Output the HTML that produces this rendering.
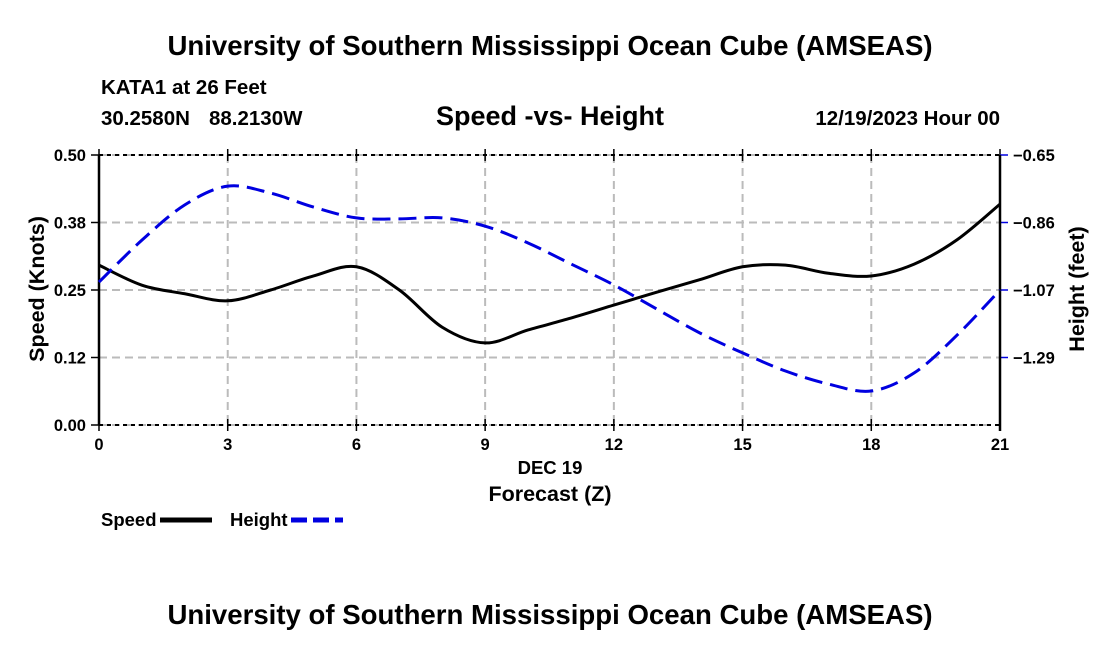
<!DOCTYPE html>
<html><head><meta charset="utf-8"><style>
body{margin:0;background:#fff}
svg{display:block;font-family:"Liberation Sans",Arial,sans-serif;font-weight:bold}
</style></head><body>
<svg id="c" width="1100" height="650">
<text x="550" y="55" text-anchor="middle" font-size="27.6">University of Southern Mississippi Ocean Cube (AMSEAS)</text>
<text x="101" y="94" font-size="20.5">KATA1 at 26 Feet</text>
<text x="101" y="125" font-size="20.5">30.2580N</text>
<text x="209" y="125" font-size="20.5">88.2130W</text>
<text x="550" y="125" text-anchor="middle" font-size="27">Speed -vs- Height</text>
<text x="1000" y="125" text-anchor="end" font-size="20.5">12/19/2023 Hour 00</text>
<text x="550" y="624" text-anchor="middle" font-size="27.6">University of Southern Mississippi Ocean Cube (AMSEAS)</text>
<g id="grid"></g><g id="axes"></g><g id="series"></g>
<text x="550" y="474" text-anchor="middle" font-size="18.5">DEC 19</text>
<text x="550" y="501" text-anchor="middle" font-size="21.5">Forecast (Z)</text>
<text transform="translate(44,289) rotate(-90)" text-anchor="middle" font-size="21.5">Speed (Knots)</text>
<text transform="translate(1084,289) rotate(-90)" text-anchor="middle" font-size="21.5">Height (feet)</text>
<g>
<text x="101" y="526" font-size="18.5">Speed</text>
<line x1="160" y1="520" x2="212" y2="520" stroke="#000" stroke-width="5"/>
<text x="230" y="526" font-size="18.5">Height</text>
<line x1="291" y1="520" x2="343" y2="520" stroke="#0000e0" stroke-width="5" stroke-dasharray="16,6"/>
</g>
</svg>
<script>
const hours=[0,1,2,3,4,5,6,7,8,9,10,11,12,13,14,15,16,17,18,19,20,21];
const speed=[0.296,0.259,0.243,0.230,0.250,0.276,0.293,0.250,0.181,0.152,0.176,0.198,0.222,0.246,0.269,0.293,0.296,0.281,0.276,0.298,0.343,0.409];
const height=[-1.05,-0.918,-0.807,-0.748,-0.77,-0.814,-0.848,-0.851,-0.848,-0.874,-0.927,-0.993,-1.059,-1.135,-1.21,-1.273,-1.33,-1.371,-1.393,-1.336,-1.217,-1.075];
const xTicks=[0,3,6,9,12,15,18,21];
const yTicks=[0,0.125,0.25,0.375,0.5];
const yLabels=["0.00","0.12","0.25","0.38","0.50"];
const y2Ticks=[-0.65,-0.8625,-1.075,-1.2875];
const y2Labels=["\u22120.65","\u22120.86","\u22121.07","\u22121.29"];
const X0=99,X1=1000,YT=155,YB=425;
const x=h=>X0+(h-0)/21*(X1-X0);
const y=v=>YB-v/0.5*(YB-YT);
const y2=v=>YT+(-0.65-v)/0.85*(YB-YT);
const NS="http://www.w3.org/2000/svg";
function mk(p,t,a){const e=document.createElementNS(NS,t);for(const k in a)e.setAttribute(k,a[k]);document.getElementById(p).appendChild(e);return e;}
xTicks.forEach(h=>{if(h>0&&h<21){const l=mk('grid','line',{x1:x(h),x2:x(h),y1:YT,y2:YB,stroke:'#bbb','stroke-width':2,'stroke-dasharray':'8,5'});

}
const t=mk('axes','text',{x:x(h),y:YB+25,'text-anchor':'middle','font-size':16.5});t.textContent=h;


mk('axes','line',{x1:x(h),x2:x(h),y1:YT-6,y2:YT+6,stroke:'#000','stroke-width':1.5});
mk('axes','line',{x1:x(h),x2:x(h),y1:YB-6,y2:YB+6,stroke:'#000','stroke-width':1.5});});
yTicks.forEach((v,i)=>{const l=mk('grid','line',{x1:X0,x2:X1,y1:y(v),y2:y(v),stroke:'#bbb','stroke-width':2,'stroke-dasharray':'8,5'});


mk('axes','line',{x1:X0-8,x2:X0,y1:y(v),y2:y(v),stroke:'#000','stroke-width':1.5});
const t=mk('axes','text',{x:X0-13,y:y(v)+6,'text-anchor':'end','font-size':16.5});t.textContent=yLabels[i];

});
y2Ticks.forEach((v,i)=>{mk('axes','line',{x1:X1,x2:X1+8,y1:y2(v),y2:y2(v),stroke:'#0000e0','stroke-width':1.5});
const t=mk('axes','text',{x:X1+13,y:y2(v)+6,'font-size':16.5});t.textContent=y2Labels[i];

});
[YT,YB].forEach(yy=>{const l=mk('axes','line',{x1:X0,x2:X1,y1:yy,y2:yy,stroke:'#000','stroke-width':2,'stroke-dasharray':'4,4'});

});
const la=mk('axes','line',{x1:X0,x2:X0,y1:YT,y2:YB,stroke:'#000','stroke-width':2.5});


const ra=mk('axes','line',{x1:X1,x2:X1,y1:YT,y2:YB+6,stroke:'#000','stroke-width':2.5});


function path(pts){let d=`M${pts[0][0]},${pts[0][1]}`;for(let i=0;i<pts.length-1;i++){const p0=pts[Math.max(0,i-1)],p1=pts[i],p2=pts[i+1],p3=pts[Math.min(pts.length-1,i+2)];
d+=` C${p1[0]+(p2[0]-p0[0])/6},${p1[1]+(p2[1]-p0[1])/6} ${p2[0]-(p3[0]-p1[0])/6},${p2[1]-(p3[1]-p1[1])/6} ${p2[0]},${p2[1]}`;}return d;}
const sp=mk('series','path',{d:path(hours.map((h,i)=>[x(h),y(speed[i])])),fill:'none',stroke:'#000','stroke-width':3});


const hp=mk('series','path',{d:path(hours.map((h,i)=>[x(h),y2(height[i])])),fill:'none',stroke:'#0000e0','stroke-width':3,'stroke-dasharray':'18,8'});


</script>
</body></html>
